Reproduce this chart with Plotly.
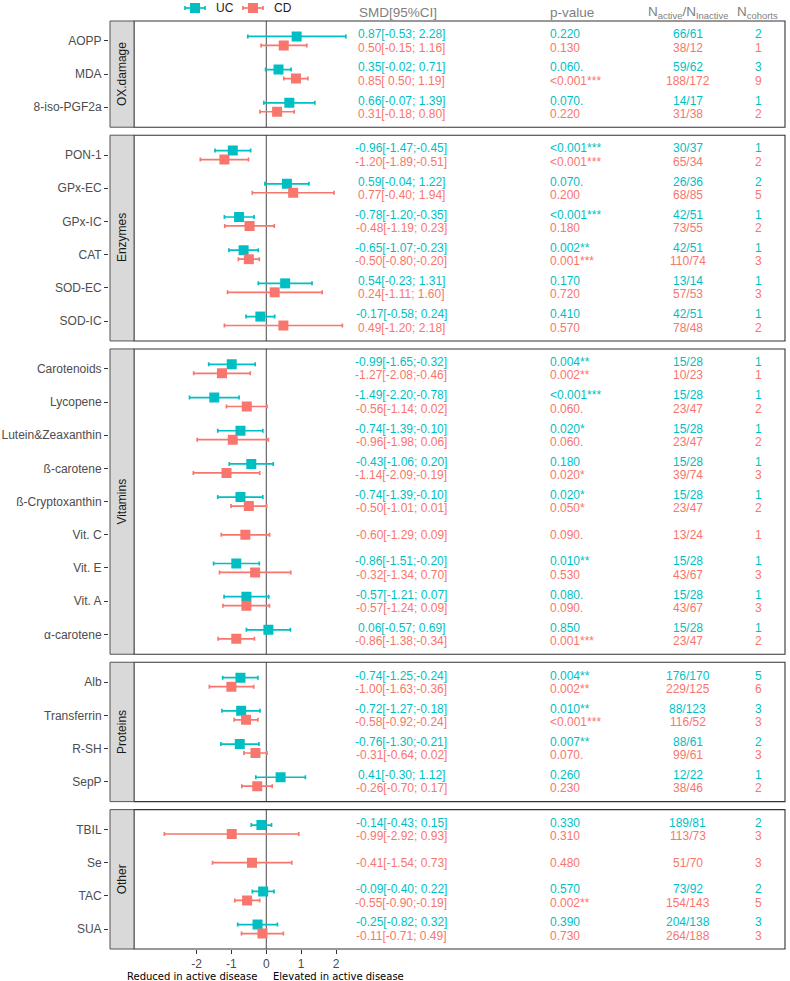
import plotly.graph_objects as go

# ---------------- data ----------------
markers = ["AOPP", "MDA", "8-iso-PGF2a",
           "PON-1", "GPx-EC", "GPx-IC", "CAT", "SOD-EC", "SOD-IC",
           "Carotenoids", "Lycopene", "Lutein&Zeaxanthin", "ß-carotene", "ß-Cryptoxanthin",
           "Vit. C", "Vit. E", "Vit. A", "α-carotene",
           "Alb", "Transferrin", "R-SH", "SepP",
           "TBIL", "Se", "TAC", "SUA"]
groups = (["OX.damage"] * 3 + ["Enzymes"] * 6 + ["Vitamins"] * 9 +
          ["Proteins"] * 4 + ["Other"] * 4)
group_order = ["OX.damage", "Enzymes", "Vitamins", "Proteins", "Other"]

uc_smd = [0.87, 0.35, 0.66, -0.96, 0.59, -0.78, -0.65, 0.54, -0.17, -0.99, -1.49, -0.74, -0.43, -0.74,
          None, -0.86, -0.57, 0.06, -0.74, -0.72, -0.76, 0.41, -0.14, None, -0.09, -0.25]
uc_lo = [-0.53, -0.02, -0.07, -1.47, -0.04, -1.20, -1.07, -0.23, -0.58, -1.65, -2.20, -1.39, -1.06, -1.39,
         None, -1.51, -1.21, -0.57, -1.25, -1.27, -1.30, -0.30, -0.43, None, -0.40, -0.82]
uc_hi = [2.28, 0.71, 1.39, -0.45, 1.22, -0.35, -0.23, 1.31, 0.24, -0.32, -0.78, -0.10, 0.20, -0.10,
         None, -0.20, 0.07, 0.69, -0.24, -0.18, -0.21, 1.12, 0.15, None, 0.22, 0.32]
uc_p = ["0.220", "0.060.", "0.070.", "<0.001***", "0.070.", "<0.001***", "0.002**", "0.170", "0.410",
        "0.004**", "<0.001***", "0.020*", "0.180", "0.020*", None, "0.010**", "0.080.", "0.850",
        "0.004**", "0.010**", "0.007**", "0.260", "0.330", None, "0.570", "0.390"]
uc_n = ["66/61", "59/62", "14/17", "30/37", "26/36", "42/51", "42/51", "13/14", "42/51",
        "15/28", "15/28", "15/28", "15/28", "15/28", None, "15/28", "15/28", "15/28",
        "176/170", "88/123", "88/61", "12/22", "189/81", None, "73/92", "204/138"]
uc_k = [2, 3, 1, 1, 2, 1, 1, 1, 1, 1, 1, 1, 1, 1, None, 1, 1, 1, 5, 3, 2, 1, 2, None, 2, 3]

cd_smd = [0.50, 0.85, 0.31, -1.20, 0.77, -0.48, -0.50, 0.24, 0.49, -1.27, -0.56, -0.96, -1.14, -0.50,
          -0.60, -0.32, -0.57, -0.86, -1.00, -0.58, -0.31, -0.26, -0.99, -0.41, -0.55, -0.11]
cd_lo = [-0.15, 0.50, -0.18, -1.89, -0.40, -1.19, -0.80, -1.11, -1.20, -2.08, -1.14, -1.98, -2.09, -1.01,
         -1.29, -1.34, -1.24, -1.38, -1.63, -0.92, -0.64, -0.70, -2.92, -1.54, -0.90, -0.71]
cd_hi = [1.16, 1.19, 0.80, -0.51, 1.94, 0.23, -0.20, 1.60, 2.18, -0.46, 0.02, 0.06, -0.19, 0.01,
         0.09, 0.70, 0.09, -0.34, -0.36, -0.24, 0.02, 0.17, 0.93, 0.73, -0.19, 0.49]
cd_p = ["0.130", "<0.001***", "0.220", "<0.001***", "0.200", "0.180", "0.001***", "0.720", "0.570",
        "0.002**", "0.060.", "0.060.", "0.020*", "0.050*", "0.090.", "0.530", "0.090.", "0.001***",
        "0.002**", "<0.001***", "0.070.", "0.230", "0.310", "0.480", "0.002**", "0.730"]
cd_n = ["38/12", "188/172", "31/38", "65/34", "68/85", "73/55", "110/74", "57/53", "78/48",
        "10/23", "23/47", "23/47", "39/74", "23/47", "13/24", "43/67", "43/67", "23/47",
        "229/125", "116/52", "99/61", "38/46", "113/73", "51/70", "154/143", "264/188"]
cd_k = [1, 9, 2, 2, 5, 2, 3, 3, 2, 1, 2, 2, 3, 2, 1, 3, 3, 2, 6, 3, 3, 2, 3, 3, 5, 3]

x_ticks = [-2, -1, 0, 1, 2]

# ---------------- styling / geometry ----------------
UC_COLOR = "#00BFC4"
CD_COLOR = "#F8766D"
FONT = "Liberation Sans, Arial, sans-serif"
W, H = 790, 981
PL, PR, PT, PB = 108, 785, 21, 949       # plot area in px
PW, PH = PR - PL, PB - PT
PANEL_LEFT = 134
GAP = 8
XMIN, XMAX = -3.79, 14.86
X_SMD, X_P, X_N, X_K = 3.87, 8.06, 12.07, 14.09


def fx(px):
    return (px - PL) / PW


def fy(py):
    return (PB - py) / PH


counts = [groups.count(g) for g in group_order]
unit = (PH - GAP * (len(group_order) - 1)) / sum(n + 0.2 for n in counts)

fig = go.Figure()
shapes, annotations = [], []
layout_axes = {}

top = PT
for k, g in enumerate(group_order):
    n = counts[k]
    h = (n + 0.2) * unit
    bottom = top + h
    yname = "y" if k == 0 else f"y{k + 1}"
    axkey = "yaxis" if k == 0 else f"yaxis{k + 1}"
    idx = [i for i, gg in enumerate(groups) if gg == g]
    yv = {i: n - 1 - j for j, i in enumerate(idx)}

    layout_axes[axkey] = dict(
        domain=[fy(bottom), fy(top)], anchor="free", position=0, automargin=False,
        range=[-0.6, n - 0.4], tickvals=[yv[i] for i in idx], ticktext=[markers[i] for i in idx],
        ticks="outside", ticklen=4, tickcolor="#333333", tickwidth=1,
        tickfont=dict(family=FONT, size=12, color="#4D4D4D"),
        showgrid=False, zeroline=False, showline=False, fixedrange=True,
    )

    for name, col, smd, lo, hi, pv, nn, kk, sgn in [
        ("UC", UC_COLOR, uc_smd, uc_lo, uc_hi, uc_p, uc_n, uc_k, 1),
        ("CD", CD_COLOR, cd_smd, cd_lo, cd_hi, cd_p, cd_n, cd_k, -1),
    ]:
        xs, ys, ep, em = [], [], [], []
        for i in idx:
            if smd[i] is None:
                continue
            both = uc_smd[i] is not None and cd_smd[i] is not None
            off_m = 0.135 * sgn if both else 0.0
            off_t = 0.2 * sgn if both else 0.0
            xs.append(smd[i])
            ys.append(yv[i] + off_m)
            ep.append(hi[i] - smd[i])
            em.append(smd[i] - lo[i])
            ty = yv[i] + off_t
            txt_font = dict(family=FONT, size=12, color=col)
            annotations.append(dict(x=X_SMD, y=ty, xref="x", yref=yname, showarrow=False,
                                    text=f"{smd[i]:.2f}[{lo[i]:5.2f};{hi[i]:5.2f}]",
                                    xanchor="center", yanchor="middle", font=txt_font))
            annotations.append(dict(x=X_P, y=ty, xref="x", yref=yname, showarrow=False,
                                    text=pv[i], xanchor="left", yanchor="middle", font=txt_font))
            annotations.append(dict(x=X_N, y=ty, xref="x", yref=yname, showarrow=False,
                                    text=nn[i], xanchor="center", yanchor="middle", font=txt_font))
            annotations.append(dict(x=X_K, y=ty, xref="x", yref=yname, showarrow=False,
                                    text=str(kk[i]), xanchor="center", yanchor="middle", font=txt_font))
        fig.add_trace(go.Scatter(
            x=xs, y=ys, xaxis="x", yaxis=yname, mode="markers", name=name, showlegend=False,
            marker=dict(symbol="square", size=10, color=col),
            error_x=dict(type="data", symmetric=False, array=ep, arrayminus=em,
                         color=col, thickness=1.7, width=2),
            hoverinfo="skip",
        ))

    # zero line
    shapes.append(dict(type="line", xref="x", yref=f"{yname} domain", x0=0, x1=0, y0=0, y1=1,
                       line=dict(color="#333333", width=0.9), layer="below"))
    # panel border
    shapes.append(dict(type="rect", xref="x domain", yref=f"{yname} domain", x0=0, x1=1, y0=0, y1=1,
                       line=dict(color="#333333", width=1.1), layer="above"))
    # strip
    shapes.append(dict(type="rect", xref="paper", yref=f"{yname} domain",
                       x0=fx(110), x1=fx(PANEL_LEFT), y0=0, y1=1,
                       fillcolor="#D9D9D9", line=dict(color="#555555", width=1), layer="above"))
    annotations.append(dict(x=fx(122), y=0.5, xref="paper", yref=f"{yname} domain", showarrow=False,
                            text=g, textangle=-90, xanchor="center", yanchor="middle",
                            font=dict(family=FONT, size=12, color="#1A1A1A")))
    top = bottom + GAP

# headers
hdr = dict(family=FONT, size=13.5, color="#7F7F7F")
hy = fy(12)
annotations += [
    dict(x=3.76, y=hy, xref="x", yref="paper", text="SMD[95%CI]", showarrow=False,
         xanchor="center", yanchor="middle", font=hdr),
    dict(x=X_P, y=hy, xref="x", yref="paper", text="p-value", showarrow=False,
         xanchor="left", yanchor="middle", font=hdr),
    dict(x=X_N, y=hy, xref="x", yref="paper", text="N<sub>active</sub>/N<sub>Inactive</sub>",
         showarrow=False, xanchor="center", yanchor="middle", font=hdr),
    dict(x=14.07, y=hy, xref="x", yref="paper", text="N<sub>cohorts</sub>", showarrow=False,
         xanchor="center", yanchor="middle", font=hdr),
]

# manual legend
ly = fy(8)
for cx, col, lab in [(195, UC_COLOR, "UC"), (253, CD_COLOR, "CD")]:
    shapes.append(dict(type="line", xref="paper", yref="paper", x0=fx(cx - 10), x1=fx(cx + 10),
                       y0=ly, y1=ly, line=dict(color=col, width=1.7)))
    shapes.append(dict(type="line", xref="paper", yref="paper", x0=fx(cx - 10), x1=fx(cx - 10),
                       y0=fy(6), y1=fy(10), line=dict(color=col, width=1.7)))
    shapes.append(dict(type="line", xref="paper", yref="paper", x0=fx(cx + 10), x1=fx(cx + 10),
                       y0=fy(6), y1=fy(10), line=dict(color=col, width=1.7)))
    shapes.append(dict(type="rect", xref="paper", yref="paper", x0=fx(cx - 5), x1=fx(cx + 5),
                       y0=fy(13), y1=fy(3), fillcolor=col, line=dict(width=0)))
    annotations.append(dict(x=fx(cx + 19), y=ly, xref="paper", yref="paper", text=lab, showarrow=False,
                            xanchor="left", yanchor="middle",
                            font=dict(family=FONT, size=12, color="#1A1A1A")))

# bottom axis caption
cap = dict(family="DejaVu Sans, sans-serif", size=10, color="#000000")
annotations += [
    dict(x=-0.21, y=fy(976), xref="x", yref="paper", text="Reduced in active disease", showarrow=False,
         xanchor="right", yanchor="middle", font=cap),
    dict(x=0.135, y=fy(976), xref="x", yref="paper", text="Elevated in active disease", showarrow=False,
         xanchor="left", yanchor="middle", font=cap),
]

fig.update_layout(
    width=W, height=H,
    margin=dict(l=PL, r=W - PR, t=PT, b=H - PB, pad=0, autoexpand=False),
    plot_bgcolor="white", paper_bgcolor="white",
    showlegend=False,
    xaxis=dict(domain=[fx(PANEL_LEFT), 1], anchor="y5", range=[XMIN, XMAX], automargin=False,
               tickvals=x_ticks, ticktext=[str(t) for t in x_ticks],
               ticks="outside", ticklen=4, tickcolor="#333333",
               tickfont=dict(family=FONT, size=12, color="#4D4D4D"),
               showgrid=False, zeroline=False, showline=False, fixedrange=True),
    shapes=shapes, annotations=annotations,
    **layout_axes,
)

fig.write_html("out.html",
               config={"displayModeBar": False, "staticPlot": True},
               post_script="document.body.style.margin='0';document.body.style.padding='0';"
                           "document.body.style.overflow='hidden';")
